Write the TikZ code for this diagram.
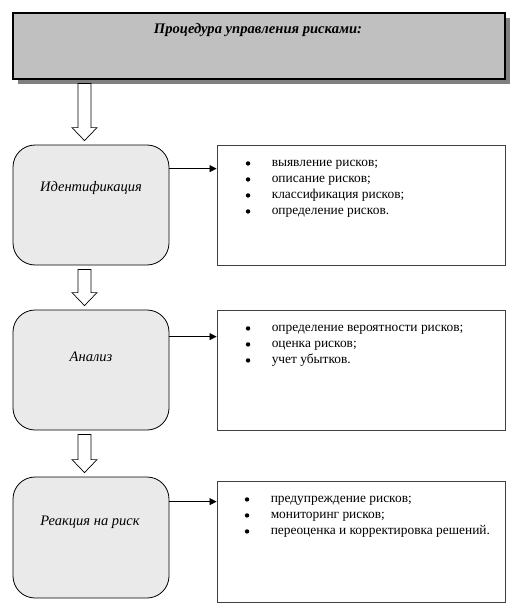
\documentclass[tikz,border=0pt]{standalone}
\usepackage{fontspec}
\setmainfont{Liberation Serif}
\usetikzlibrary{shadows,arrows.meta,calc}
\definecolor{titlegray}{HTML}{C0C0C0}
\definecolor{shadowgray}{HTML}{808080}
\definecolor{stagegray}{HTML}{EAEAEA}
\definecolor{boxgray}{HTML}{404040}
\newcommand{\blockarr}[2]{%
  \draw[blockarrow] let \p1=(#1.south), \p2=(#2.north) in
    (78pt,\y1-4pt) -- (91pt,\y1-4pt) -- (91pt,\y2+17pt) -- (97pt,\y2+17pt)
    -- (84.5pt,\y2+4pt) -- (72pt,\y2+17pt) -- (78pt,\y2+17pt) -- cycle;}
% bullets for a list node #1 with #2 lines
\newcommand{\listbullets}[2]{%
  \foreach \i in {1,...,#2}
    \fill ($(#1.north west)+(-23.5,{7.9+16*(\i-1)})$) circle (2.2pt);}
\begin{document}
\begin{tikzpicture}[x=1pt,y=-1pt,
  titlebox/.style={draw=black, line width=1.2pt, fill=titlegray, minimum width=492pt, minimum height=66pt, inner sep=0pt,
    drop shadow={shadow xshift=5pt, shadow yshift=-5pt, fill=shadowgray, opacity=1}},
  stagebox/.style={draw=black, line width=0.8pt, fill=stagegray, rounded corners=22pt, minimum width=156pt, minimum height=120pt, inner sep=0pt},
  listbox/.style={draw=boxgray, line width=0.9pt, minimum width=288pt, minimum height=120pt, inner sep=0pt},
  titletext/.style={font=\fontsize{14.6}{16}\selectfont\bfseries\itshape},
  stagetext/.style={font=\fontsize{14.5}{16}\selectfont\itshape},
  listtext/.style={font=\fontsize{13.4}{16}\selectfont, anchor=north west, inner sep=0pt, align=left},
  blockarrow/.style={draw=black, line width=0.7pt, fill=white},
  link/.style={draw=black, line width=0.7pt, -{Triangle[length=7pt,width=7pt]}},
]
\useasboundingbox (0,0) rectangle (520,615);

\node[titlebox] (title) at (259,46) {};
\node[titletext] (titlet) at (258,30) {Процедура управления рисками:};

\node[stagebox] (b1) at (91,205) {};
\node[stagebox] (b2) at (91,370) {};
\node[stagebox, minimum height=121pt] (b3) at (91,537.5) {};
\node[stagetext] (b1t) at (91,188) {Идентификация};
\node[stagetext] (b2t) at (91,357) {Анализ};
\node[stagetext] (b3t) at (90,522) {Реакция на риск};

\node[listbox] (r1) at (361,205) {};
\node[listbox] (r2) at (361,370) {};
\node[listbox, minimum height=121pt] (r3) at (361,541.5) {};

\node[listtext] (r1t) at ($(r1.north west)+(55,11)$) {\begin{tabular}{@{}l@{}}
выявление рисков;\\
описание рисков;\\
классификация рисков;\\
определение рисков.
\end{tabular}};
\node[listtext] (r2t) at ($(r2.north west)+(55,11)$) {\begin{tabular}{@{}l@{}}
определение вероятности рисков;\\
оценка рисков;\\
учет убытков.
\end{tabular}};
\node[listtext] (r3t) at ($(r3.north west)+(54,11)$) {\begin{tabular}{@{}l@{}}
предупреждение рисков;\\
мониторинг рисков;\\
переоценка и корректировка решений.
\end{tabular}};
\listbullets{r1t}{4}
\listbullets{r2t}{3}
\listbullets{r3t}{3}

\blockarr{title}{b1}
\blockarr{b1}{b2}
\blockarr{b2}{b3}

\coordinate (l1) at ($(b1.north east)+(0,24)$);
\coordinate (l2) at ($(b2.north east)+(0,27)$);
\coordinate (l3) at ($(b3.north east)+(0,25)$);
\draw[link] (l1) -- (l1 -| r1.west);
\draw[link] (l2) -- (l2 -| r2.west);
\draw[link] (l3) -- (l3 -| r3.west);
\end{tikzpicture}
\end{document}
